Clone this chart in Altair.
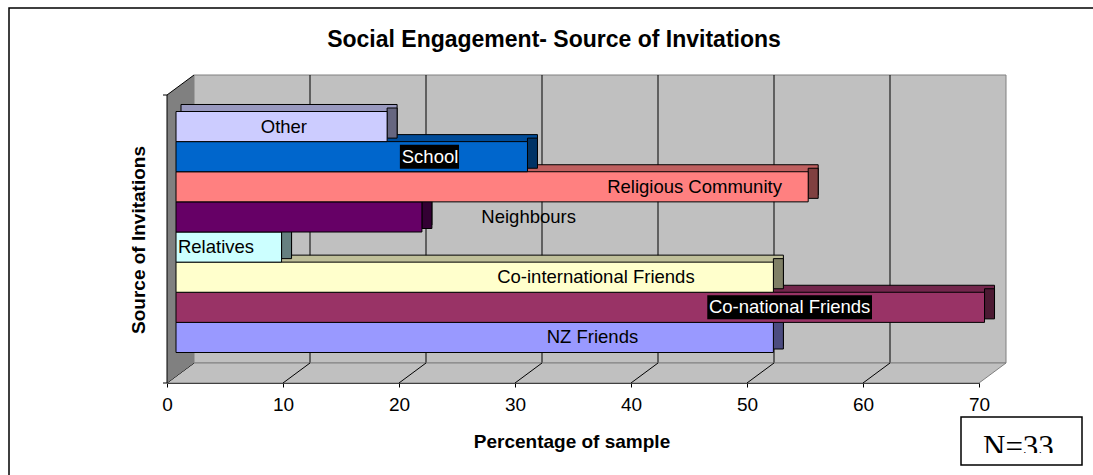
import altair as alt
import pandas as pd

# ---------------- data ----------------
categories = ["NZ Friends", "Co-national Friends", "Co-international Friends", "Relatives",
              "Neighbours", "Religious Community", "School", "Other"]
values = [51.5, 69.7, 51.5, 9.1, 21.2, 54.5, 30.3, 18.2]

# ---------------- styles / label layout ----------------
front_colors = ["#9999FF", "#993366", "#FFFFCC", "#CCFFFF", "#660066", "#FF8080", "#0066CC", "#CCCCFF"]
label_x = [35.9, 52.9, 36.2, 3.45, 30.4, 44.7, 21.9, 9.3]          # label centres, in % units
label_colors = ["black", "white", "black", "black", "black", "black", "white", "black"]
bg_categories = ["School", "Co-national Friends"]                 # labels drawn on black boxes
bg_start = [19.3, 45.8]
bg_end = [24.4, 60.0]

x_ticks = [0, 10, 20, 30, 40, 50, 60, 70]
grid_ticks = [10, 20, 30, 40, 50, 60]
floor_ticks = [0, 10, 20, 30, 40, 50, 60]

title_text = "Social Engagement- Source of Invitations"
x_title = "Percentage of sample"
y_title = "Source of Invitations"
note_text = "N=33"

FONT = "Liberation Sans"
W, H = 812, 288            # front plane of the plot
DX, DY = 27, 20            # depth of the 3-D box
BX, BY = 9, 7              # bar front plane offset
BDX, BDY = 10, 7           # bar depth


def shade(h, f):
    r, g, b = int(h[1:3], 16), int(h[3:5], 16), int(h[5:7], 16)
    return "#%02x%02x%02x" % (round(r * f), round(g * f), round(b * f))


bars = pd.DataFrame({
    "category": categories,
    "value": values,
    "base": [x_ticks[0]] * len(values),
    "front": front_colors,
    "top": [shade(c, 0.75) for c in front_colors],
    "side": [shade(c, 0.5) for c in front_colors],
    "lx": label_x,
    "lcolor": label_colors,
})
bgs = pd.DataFrame({"category": bg_categories, "x0": bg_start, "x1": bg_end})

ydomain = categories[::-1]
xscale = alt.Scale(domain=[x_ticks[0], x_ticks[-1]], nice=False, zero=False)
yscale = alt.Scale(domain=ydomain, paddingInner=0, paddingOuter=0.78)
xaxis = alt.Axis(values=x_ticks, title=None, grid=False, domainColor="black", domainWidth=1,
                 tickColor="black", tickSize=4, tickWidth=1, labelFont=FONT, labelFontSize=19,
                 labelColor="black", labelPadding=8, labelFlush=False, labelOverlap=False)
Y = alt.Y("category:N", scale=yscale, axis=None)

depth_units = DX * (x_ticks[-1] - x_ticks[0]) / W
one = pd.DataFrame({"k": [0]})

# outer frame
frame = alt.Chart(one).mark_rect(fillOpacity=0, stroke="black", strokeWidth=1.5).encode(
    x=alt.value(-158), x2=alt.value(950), y=alt.value(-87), y2=alt.value(420))

# back wall
wall = alt.Chart(pd.DataFrame({"x0": [x_ticks[0]], "x1": [x_ticks[-1]]})).mark_rect(
    fill="#C0C0C0", stroke="#808080", strokeWidth=1, xOffset=DX, x2Offset=DX).encode(
    x=alt.X("x0:Q", scale=xscale, axis=xaxis), x2="x1:Q",
    y=alt.value(-DY), y2=alt.value(H - DY))

grid = alt.Chart(pd.DataFrame({"t": grid_ticks})).mark_rule(color="black", strokeWidth=1, xOffset=DX).encode(
    x=alt.X("t:Q", scale=xscale, axis=xaxis), y=alt.value(-DY), y2=alt.value(H - DY))

floor_df = pd.DataFrame({
    "fx": [x_ticks[0], x_ticks[0] + depth_units, x_ticks[-1], x_ticks[-1] + depth_units],
    "fy": [H, H - DY, H - DY, H - DY],
    "fy2": [H, H, H, H - DY],
})
floor = alt.Chart(floor_df).mark_area(orient="vertical", fill="#C0C0C0", stroke="#808080",
                                      strokeWidth=1, interpolate="linear").encode(
    x=alt.X("fx:Q", scale=xscale, axis=xaxis), y=alt.Y("fy:Q", scale=None), y2="fy2:Q")

diag = alt.Chart(pd.DataFrame({"t": floor_ticks})).mark_rule(color="black", strokeWidth=1, x2Offset=DX).encode(
    x=alt.X("t:Q", scale=xscale, axis=xaxis), x2="t:Q", y=alt.value(H), y2=alt.value(H - DY))

side_df = pd.DataFrame({
    "sx": [x_ticks[0], x_ticks[0] + depth_units],
    "sy": [0, -DY],
    "sy2": [H, H - DY],
})
side_wall = alt.Chart(side_df).mark_area(orient="vertical", fill="#808080", interpolate="linear").encode(
    x=alt.X("sx:Q", scale=xscale, axis=xaxis), y=alt.Y("sy:Q", scale=None), y2="sy2:Q")
side_edge = alt.Chart(one).mark_rule(color="black", strokeWidth=1).encode(
    x=alt.value(0), x2=alt.value(DX), y=alt.value(0), y2=alt.value(-DY))

base = alt.Chart(bars)
bar_back = base.mark_bar(stroke="black", strokeWidth=1, xOffset=BX + BDX, x2Offset=BX + BDX / 2,
                         yOffset=-(BY + BDY), y2Offset=-(BY + BDY)).encode(
    x=alt.X("value:Q", scale=xscale, axis=xaxis, stack=None), x2="base:Q", y=Y,
    fill=alt.Fill("top:N", scale=None))
bar_side = base.mark_bar(stroke="black", strokeWidth=1, xOffset=BX, x2Offset=BX + BDX,
                         yOffset=-(BY + BDY / 2), y2Offset=-(BY + BDY / 2)).encode(
    x=alt.X("value:Q", scale=xscale, axis=xaxis, stack=None), x2="value:Q", y=Y,
    fill=alt.Fill("side:N", scale=None))
bar_front = base.mark_bar(stroke="black", strokeWidth=1, xOffset=BX, x2Offset=BX,
                          yOffset=-BY, y2Offset=-BY).encode(
    x=alt.X("value:Q", scale=xscale, axis=xaxis, stack=None), x2="base:Q", y=Y,
    fill=alt.Fill("front:N", scale=None))

label_bg = alt.Chart(bgs).mark_bar(fill="black", size=24, xOffset=BX, x2Offset=BX,
                                   yOffset=-BY, y2Offset=-BY).encode(
    x=alt.X("x0:Q", scale=xscale, axis=xaxis), x2="x1:Q", y=Y)
labels = base.mark_text(font=FONT, fontSize=18.5, align="center", baseline="middle",
                        xOffset=BX, yOffset=-BY).encode(
    x=alt.X("lx:Q", scale=xscale, axis=xaxis), y=Y,
    color=alt.Color("lcolor:N", scale=None), text="category:N")

yline = alt.Chart(one).mark_rule(color="black", strokeWidth=1).encode(
    x=alt.value(0), y=alt.value(0), y2=alt.value(H))
yticks = alt.Chart(pd.DataFrame({"yy": [0, H]})).mark_rule(color="black", strokeWidth=1).encode(
    x=alt.value(-4), x2=alt.value(0), y=alt.Y("yy:Q", scale=None))

title = alt.Chart(one).mark_text(text=title_text, font=FONT, fontSize=23, fontWeight="bold",
                                 align="center", baseline="alphabetic", color="black").encode(
    x=alt.value(387), y=alt.value(-48))
xt = alt.Chart(one).mark_text(text=x_title, font=FONT, fontSize=19, fontWeight="bold",
                              align="center", baseline="alphabetic", color="black").encode(
    x=alt.value(405), y=alt.value(353))
yt = alt.Chart(one).mark_text(text=y_title, font=FONT, fontSize=19, fontWeight="bold", angle=270,
                              align="center", baseline="middle", color="black").encode(
    x=alt.value(-28), y=alt.value(145))

note_box = alt.Chart(one).mark_rect(fill="white", stroke="black", strokeWidth=1.5).encode(
    x=alt.value(794), x2=alt.value(915), y=alt.value(322), y2=alt.value(370))
note = alt.Chart(one).mark_text(text=note_text, font="Liberation Serif", fontSize=31,
                                align="left", baseline="alphabetic", color="black").encode(
    x=alt.value(816), y=alt.value(362))
note_clip = alt.Chart(one).mark_rect(fill="white").encode(
    x=alt.value(796), x2=alt.value(913), y=alt.value(358), y2=alt.value(368))

chart = alt.layer(
    frame, wall, grid, floor, diag, side_wall, side_edge,
    bar_back, bar_side, bar_front, label_bg, labels,
    yline, yticks, title, xt, yt, note_box, note, note_clip,
).properties(
    width=W, height=H,
    padding={"left": 167, "top": 95, "right": 114, "bottom": 92},
    autosize=alt.AutoSizeParams(type="none"),
    background="white",
).configure_view(stroke=None)

chart.save("out.html", embed_options={"renderer": "svg", "actions": False})
